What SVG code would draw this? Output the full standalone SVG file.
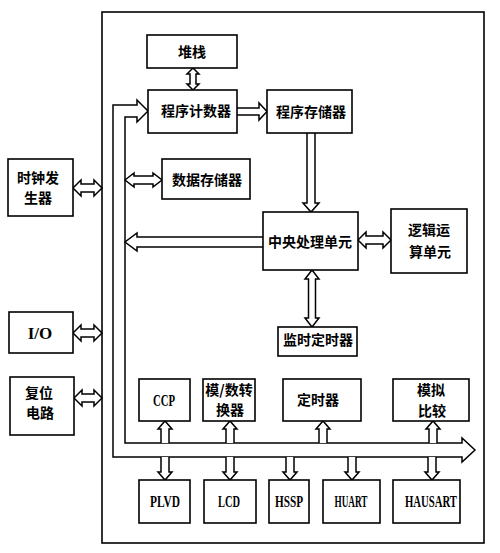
<svg xmlns="http://www.w3.org/2000/svg" width="500" height="553" viewBox="0 0 500 553">
<style>
.box{fill:#fff;stroke:#000;stroke-width:1.6}
.frame{fill:none;stroke:#000;stroke-width:1.6}
.arr{fill:#fff;stroke:#000;stroke-width:1.5;stroke-linejoin:miter}
.zh{font-family:"Noto Sans CJK SC","Noto Sans",sans-serif;font-weight:bold;font-size:14px;text-anchor:middle;fill:#000}
.en{font-family:"Liberation Serif",serif;font-weight:bold;font-size:17px;text-anchor:middle;fill:#000}
</style>
<rect width="500" height="553" fill="#fff"/>
<rect class="frame" x="102" y="12" width="382" height="531"/>

<g id="connectors">
  <!-- bus -->
  <path class="arr" d="M113,457 L113,105 L137,105 L137,100 L148,111 L137,122 L137,117 L125,117 L125,443 L462,443 L462,438 L475,450 L462,462 L462,457 Z"/>
  <!-- stack <-> PC -->
  <path class="arr" d="M193,68 L199,74 L196,74 L196,84 L199,84 L193,90 L187,84 L190,84 L190,74 L187,74 Z"/>
  <!-- PC -> PM -->
  <path class="arr" d="M237,108 L259,108 L259,103 L267,111.5 L259,120 L259,115 L237,115"/>
  <!-- PM -> CPU -->
  <path class="arr" d="M307,133 L307,203 L303,203 L311,212 L319,203 L315,203 L315,133"/>
  <!-- data mem <-> bus -->
  <path class="arr" d="M125,180 L134,173 L134,176 L153,176 L153,173 L162,180 L153,187 L153,184 L134,184 L134,187 Z"/>
  <!-- CPU -> bus -->
  <path class="arr" d="M263,237 L137,237 L137,233 L125,242 L137,251 L137,247 L263,247"/>
  <!-- CPU <-> ALU -->
  <path class="arr" d="M358,240 L366,232 L366,236 L383,236 L383,232 L391,240 L383,248 L383,244 L366,244 L366,248 Z"/>
  <!-- CPU <-> watchdog -->
  <path class="arr" d="M312,270 L319,279 L315.5,279 L315.5,318 L319,318 L312,327 L305,318 L308.5,318 L308.5,279 L305,279 Z"/>
  <!-- clock <-> frame -->
  <path class="arr" d="M73,188 L81,180 L81,184 L94,184 L94,180 L102,188 L94,196 L94,192 L81,192 L81,196 Z"/>
  <!-- I/O <-> frame -->
  <path class="arr" d="M73,333 L81,325 L81,329 L94,329 L94,325 L102,333 L94,341 L94,337 L81,337 L81,341 Z"/>
  <!-- reset <-> frame -->
  <path class="arr" d="M74,398 L82,390 L82,394 L94,394 L94,390 L102,398 L94,406 L94,402 L82,402 L82,406 Z"/>
  <!-- bus -> upper peripherals -->
  <path class="arr" d="M161,443 L161,429 L158,429 L165,421 L172,429 L169,429 L169,443"/>
  <path class="arr" d="M226,443 L226,429 L223,429 L230,421 L237,429 L234,429 L234,443"/>
  <path class="arr" d="M319,443 L319,429 L316,429 L323,421 L330,429 L327,429 L327,443"/>
  <path class="arr" d="M429,443 L429,429 L426,429 L433,421 L440,429 L437,429 L437,443"/>
  <!-- bus -> lower peripherals -->
  <path class="arr" d="M161,457 L161,472 L158,472 L165,480 L172,472 L169,472 L169,457"/>
  <path class="arr" d="M226,457 L226,472 L223,472 L230,480 L237,472 L234,472 L234,457"/>
  <path class="arr" d="M286,457 L286,472 L283,472 L290,480 L297,472 L294,472 L294,457"/>
  <path class="arr" d="M348,457 L348,472 L345,472 L352,480 L359,472 L356,472 L356,457"/>
  <path class="arr" d="M428,457 L428,472 L425,472 L432,480 L439,472 L436,472 L436,457"/>
</g>

<g id="stack"><rect class="box" x="147" y="35" width="90" height="33"/><text class="zh" x="192" y="57">堆栈</text></g>
<g id="pc"><rect class="box" x="148" y="90" width="89" height="43"/><text class="zh" x="196" y="116">程序计数器</text></g>
<g id="progmem"><rect class="box" x="267" y="90" width="85" height="43"/><text class="zh" x="311" y="117">程序存储器</text></g>
<g id="datamem"><rect class="box" x="162" y="159" width="88" height="40"/><text class="zh" x="207" y="185">数据存储器</text></g>
<g id="clock"><rect class="box" x="8" y="159" width="65" height="57"/><text class="zh" x="38" y="183">时钟发</text><text class="zh" x="38" y="203">生器</text></g>
<g id="cpu"><rect class="box" x="263" y="212" width="95" height="58"/><text class="zh" x="310" y="247">中央处理单元</text></g>
<g id="alu"><rect class="box" x="391" y="209" width="76" height="64"/><text class="zh" x="429" y="235">逻辑运</text><text class="zh" x="430" y="257">算单元</text></g>
<g id="watchdog"><rect class="box" x="278" y="327" width="79" height="29"/><text class="zh" x="318" y="345">监时定时器</text></g>
<g id="io"><rect class="box" x="9" y="312" width="64" height="41"/><text class="en" x="40" y="339">I/O</text></g>
<g id="reset"><rect class="box" x="10" y="377" width="64" height="58"/><text class="zh" x="39" y="398">复位</text><text class="zh" x="40" y="418">电路</text></g>
<g id="ccp"><rect class="box" x="139" y="379" width="51" height="42"/><text class="en" x="164" y="406" textLength="22" lengthAdjust="spacingAndGlyphs">CCP</text></g>
<g id="adc"><rect class="box" x="203" y="379" width="52" height="42"/><text class="zh" x="229" y="395">模/数转</text><text class="zh" x="230" y="415">换器</text></g>
<g id="timer"><rect class="box" x="283" y="379" width="78" height="42"/><text class="zh" x="318" y="405">定时器</text></g>
<g id="comparator"><rect class="box" x="393" y="379" width="76" height="42"/><text class="zh" x="431" y="395">模拟</text><text class="zh" x="432" y="416">比较</text></g>
<g id="plvd"><rect class="box" x="139" y="480" width="51" height="43"/><text class="en" x="165" y="507" textLength="30" lengthAdjust="spacingAndGlyphs">PLVD</text></g>
<g id="lcd"><rect class="box" x="204" y="480" width="52" height="43"/><text class="en" x="229" y="507" textLength="22" lengthAdjust="spacingAndGlyphs">LCD</text></g>
<g id="hssp"><rect class="box" x="269" y="480" width="40" height="43"/><text class="en" x="289" y="507" textLength="28" lengthAdjust="spacingAndGlyphs">HSSP</text></g>
<g id="huart"><rect class="box" x="323" y="480" width="57" height="43"/><text class="en" x="351" y="507" textLength="33" lengthAdjust="spacingAndGlyphs">HUART</text></g>
<g id="hausart"><rect class="box" x="393" y="480" width="67" height="43"/><text class="en" x="431" y="507" textLength="52" lengthAdjust="spacingAndGlyphs">HAUSART</text></g>
</svg>
